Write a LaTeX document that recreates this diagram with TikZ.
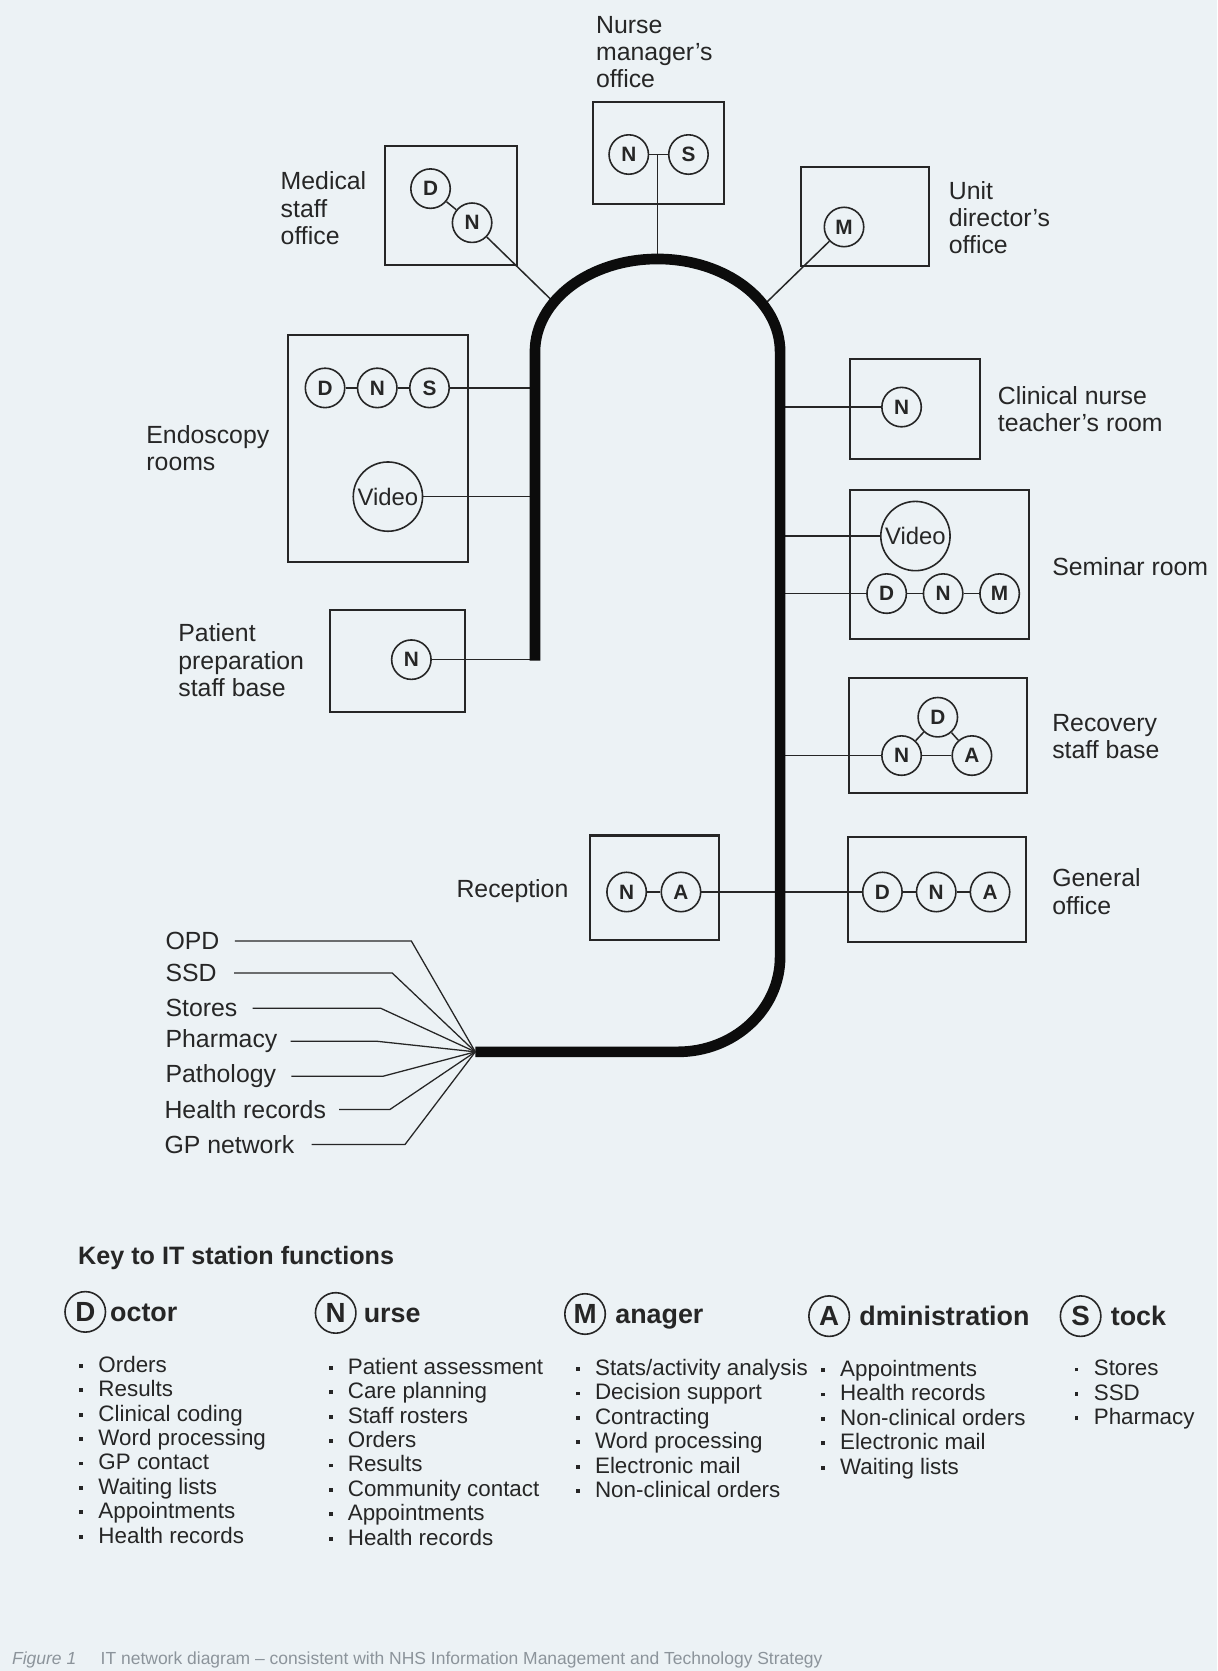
\documentclass[tikz,border=0pt]{standalone}
\usepackage{fontspec}
\setmainfont{Liberation Sans}
\definecolor{bg}{RGB}{236,242,245}
\definecolor{ink}{RGB}{38,38,38}
\definecolor{ringc}{RGB}{12,12,12}
\definecolor{capc}{RGB}{140,148,155}
\newcommand\kbul{\makebox[9pt][l]{\rule[0.2em]{1.8pt}{1.8pt}}}
\begin{document}
\begin{tikzpicture}[x=0.5pt,y=-0.5pt,
  room/.style={draw=ink, line width=0.95pt, inner sep=0pt},
  stn/.style={circle, draw=ink, line width=0.75pt, minimum size=18.5pt, inner sep=0pt,
    font=\fontsize{9.75}{10}\selectfont\bfseries, text=ink},
  vid/.style={circle, draw=ink, line width=0.75pt, minimum size=32.5pt, inner sep=0pt,
    font=\fontsize{11.2}{12}\selectfont, text=ink},
  lnk/.style={draw=ink, line width=0.7pt},
  ext/.style={draw=ink, line width=0.6pt},
  ringline/.style={draw=ringc, line width=5pt},
  lbl/.style={inner sep=0pt, align=left, font=\fontsize{11.65}{12.75}\selectfont, text=ink},
  keyc/.style={circle, draw=ink, line width=0.75pt, minimum size=19pt, inner sep=0pt,
    font=\fontsize{13}{14}\selectfont\bfseries, text=ink},
  keyw/.style={inner sep=0pt, font=\fontsize{12.6}{14}\selectfont\bfseries, text=ink},
  lst/.style={inner sep=0pt, align=left, anchor=north west, font=\fontsize{10.5}{11.45}\selectfont, text=ink}
]
\fill[bg] (0,0) rectangle (1142,1568);
\useasboundingbox (0,0) rectangle (1142,1568);

% ---------- rooms ----------
% Nurse manager's office
\node[room, minimum width=61.5pt, minimum height=47.5pt] (nmBox) at (618,143.5) {};
\node[stn] (nmN) at (590,145) {N};
\node[stn] (nmS) at (646,145) {S};
\node[lbl, anchor=north west] (nmL) at (559,15) {Nurse\\manager's\\office};

% Medical staff office
\node[room, minimum width=62pt, minimum height=56pt] (msBox) at (423,193) {};
\node[stn] (msD) at (404,177) {D};
\node[stn] (msN) at (443,209) {N};
\node[lbl, anchor=north west] (msL) at (263,161) {Medical\\staff\\office};

% Unit director's office
\node[room, minimum width=60pt, minimum height=46.5pt] (udBox) at (812,203.5) {};
\node[stn] (udM) at (792,213) {M};
\node[lbl, anchor=north west] (udL) at (890,170) {Unit\\director's\\office};

% Endoscopy rooms
\node[room, minimum width=84.5pt, minimum height=106.5pt] (enBox) at (354.5,420.5) {};
\node[stn] (enD) at (305,364) {D};
\node[stn] (enN) at (354,364) {N};
\node[stn] (enS) at (403,364) {S};
\node[vid] (enV) at (364,466) {Video};
\node[lbl, anchor=north west] (enL) at (137,399) {Endoscopy\\rooms};

% Patient preparation staff base
\node[room, minimum width=63pt, minimum height=48pt] (ppBox) at (373,620) {};
\node[stn] (ppN) at (386,619) {N};
\node[lbl, anchor=north west] (ppL) at (167,585) {Patient\\preparation\\staff base};

% Clinical nurse teacher's room
\node[room, minimum width=61pt, minimum height=47pt] (cnBox) at (859,384) {};
\node[stn] (cnN) at (846,382) {N};
\node[lbl, anchor=north west] (cnL) at (936,362) {Clinical nurse\\teacher's room};

% Seminar room
\node[room, minimum width=84pt, minimum height=70pt] (smBox) at (882,530) {};
\node[vid] (smV) at (859,503) {Video};
\node[stn] (smD) at (832,557) {D};
\node[stn] (smN) at (885,557) {N};
\node[stn] (smM) at (938,557) {M};
\node[lbl, anchor=west] (smL) at (987,532) {Seminar room};

% Recovery staff base
\node[room, minimum width=83.5pt, minimum height=54pt] (rsBox) at (880.5,690) {};
\node[stn] (rsD) at (880,673) {D};
\node[stn] (rsN) at (846,709) {N};
\node[stn] (rsA) at (912,709) {A};
\node[lbl, anchor=north west] (rsL) at (987,670) {Recovery\\staff base};

% General office
\node[room, minimum width=83.5pt, minimum height=49pt] (goBox) at (879,834.5) {};
\node[stn] (goD) at (828,837) {D};
\node[stn] (goN) at (878.5,837) {N};
\node[stn] (goA) at (929,837) {A};
\node[lbl, anchor=north west] (goL) at (987,815) {General\\office};

% Reception
\node[room, minimum width=60.5pt, minimum height=49pt] (rcBox) at (614.5,833) {};
\node[stn] (rcN) at (588,837) {N};
\node[stn] (rcA) at (639,837) {A};
\node[lbl, anchor=west] (rcL) at (428,836) {Reception};

% ---------- ring coordinates ----------
\coordinate (ringL) at (502,500);
\coordinate (ringR) at (732,500);
\coordinate (rTop) at (617,243);
\coordinate (rMed) at (519,283);
\coordinate (rDir) at (718,285);
\coordinate (conv) at (446,987);

% ---------- connectors ----------
\draw[lnk] (nmN) -- (nmS);
\draw[lnk] (nmN -| rTop) -- (rTop);
\draw[lnk] (msD) -- (msN);
\draw[lnk] (msN) -- (rMed);
\draw[lnk] (udM) -- (rDir);
\draw[lnk] (enD) -- (enN);
\draw[lnk] (enN) -- (enS);
\draw[lnk] (enS) -- (enS -| ringL);
\draw[lnk] (enV) -- (enV -| ringL);
\draw[lnk] (ppN) -- (ppN -| ringL);
\draw[lnk] (cnN) -- (cnN -| ringR);
\draw[lnk] (smV) -- (smV -| ringR);
\draw[lnk] (smD) -- (smD -| ringR);
\draw[lnk] (smD) -- (smN);
\draw[lnk] (smN) -- (smM);
\draw[lnk] (rsD) -- (rsN);
\draw[lnk] (rsD) -- (rsA);
\draw[lnk] (rsN) -- (rsA);
\draw[lnk] (rsN) -- (rsN -| ringR);
\draw[lnk] (goD) -- (goN);
\draw[lnk] (goN) -- (goA);
\draw[lnk] (rcN) -- (rcA);
\draw[lnk] (rcA) -- (goD);

% ---------- ring (backbone) ----------
\draw[ringline] (502,620) -- (502,330)
  arc[start angle=180, end angle=360, x radius=115, y radius=87]
  -- (732,898)
  arc[start angle=0, end angle=90, x radius=96, y radius=89]
  -- (conv);

% ---------- external links ----------
\node[lbl, anchor=west] (xOPD) at (155,883) {OPD};
\node[lbl, anchor=west] (xSSD) at (155,913) {SSD};
\node[lbl, anchor=west] (xSto) at (155,946) {Stores};
\node[lbl, anchor=west] (xPha) at (155,977) {Pharmacy};
\node[lbl, anchor=west] (xPat) at (155,1010) {Pathology};
\node[lbl, anchor=west] (xHea) at (154,1041) {Health records};
\node[lbl, anchor=west] (xGP)  at (154,1074) {GP network};
\coordinate (kOPD) at (386,0);
\coordinate (kSSD) at (368,0);
\coordinate (kSto) at (357,0);
\coordinate (kPha) at (353,0);
\coordinate (kPat) at (359,0);
\coordinate (kHea) at (366,0);
\coordinate (kGP)  at (380,0);
\draw[ext] ([xshift=7pt]xOPD.east) -- (xOPD.east -| kOPD) -- (conv);
\draw[ext] ([xshift=8pt]xSSD.east) -- (xSSD.east -| kSSD) -- (conv);
\draw[ext] ([xshift=7pt]xSto.east) -- (xSto.east -| kSto) -- (conv);
\draw[ext] ([xshift=6pt]xPha.east) -- (xPha.east -| kPha) -- (conv);
\draw[ext] ([xshift=7pt]xPat.east) -- (xPat.east -| kPat) -- (conv);
\draw[ext] ([xshift=6pt]xHea.east) -- (xHea.east -| kHea) -- (conv);
\draw[ext] ([xshift=8pt]xGP.east) -- (xGP.east -| kGP) -- (conv);

% ---------- key ----------
\node[inner sep=0pt, anchor=west, font=\fontsize{11.8}{13}\selectfont\bfseries, text=ink] (keyT) at (73,1180) {Key to IT station functions};

\node[keyc] (keyD) at (80,1231) {D};
\node[keyw, anchor=base west] (keyDw) at ([xshift=11.5pt]keyD.base) {octor};
\node[keyc] (keyN) at (315,1232) {N};
\node[keyw, anchor=base west] (keyNw) at ([xshift=13pt]keyN.base) {urse};
\node[keyc] (keyM) at (549,1233) {M};
\node[keyw, anchor=base west] (keyMw) at ([xshift=14pt]keyM.base) {anager};
\node[keyc] (keyA) at (778,1235) {A};
\node[keyw, anchor=base west] (keyAw) at ([xshift=14pt]keyA.base) {dministration};
\node[keyc] (keyS) at (1014,1235) {S};
\node[keyw, anchor=base west] (keySw) at ([xshift=14pt]keyS.base) {tock};

\node[lst] (lstD) at (74,1272) {\kbul Orders\\\kbul Results\\\kbul Clinical coding\\\kbul Word processing\\\kbul GP contact\\\kbul Waiting lists\\\kbul Appointments\\\kbul Health records};
\node[lst] (lstN) at (308,1274) {\kbul Patient assessment\\\kbul Care planning\\\kbul Staff rosters\\\kbul Orders\\\kbul Results\\\kbul Community contact\\\kbul Appointments\\\kbul Health records};
\node[lst] (lstM) at (540,1275) {\kbul Stats/activity analysis\\\kbul Decision support\\\kbul Contracting\\\kbul Word processing\\\kbul Electronic mail\\\kbul Non-clinical orders};
\node[lst] (lstA) at (770,1276) {\kbul Appointments\\\kbul Health records\\\kbul Non-clinical orders\\\kbul Electronic mail\\\kbul Waiting lists};
\node[lst] (lstS) at (1008,1276) {\kbul Stores\\\kbul SSD\\\kbul Pharmacy};

% ---------- caption ----------
\node[inner sep=0pt, anchor=west, font=\fontsize{8.2}{9}\selectfont, text=capc] (cap) at (11,1558)
  {\textit{Figure 1}\hspace{1.4em}IT network diagram – consistent with NHS Information Management and Technology Strategy};
\end{tikzpicture}
\end{document}
